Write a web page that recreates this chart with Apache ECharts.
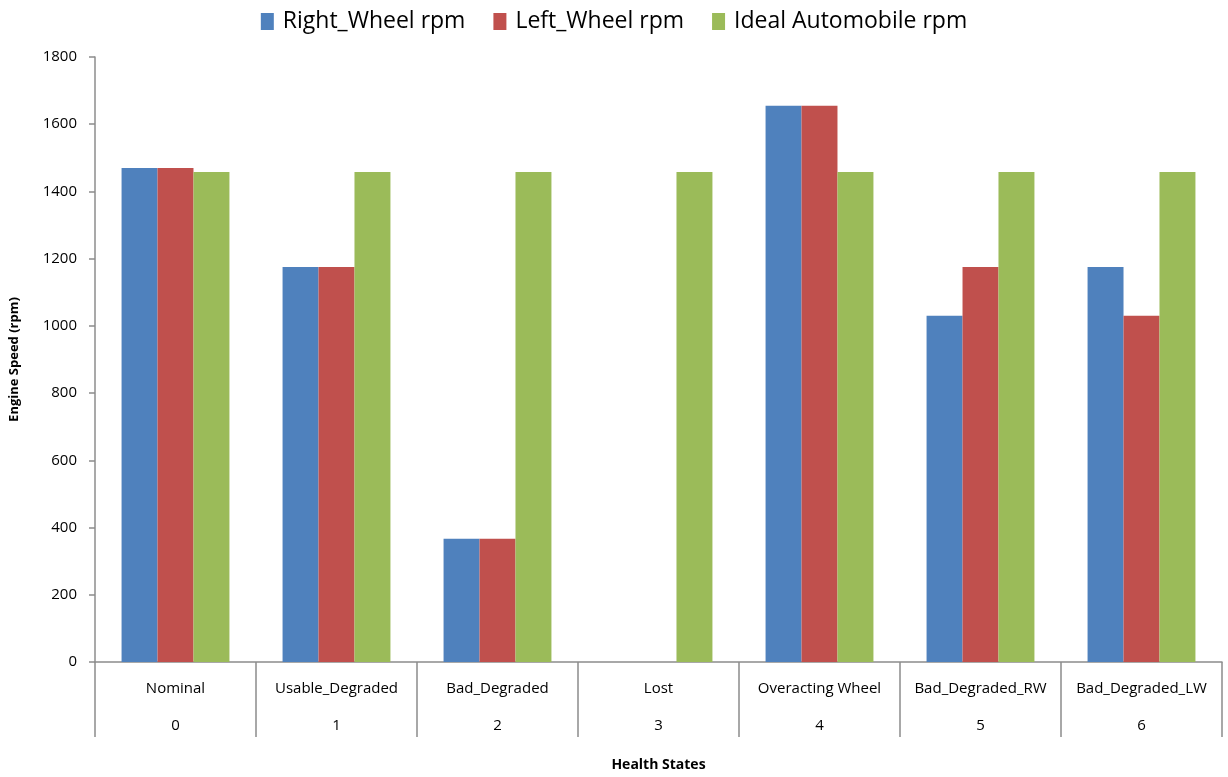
<!DOCTYPE html>
<html>
<head>
<meta charset="utf-8">
<script src="https://cdn.jsdelivr.net/npm/echarts@6/dist/echarts.min.js"></script>
<style>
html, body { margin: 0; padding: 0; background: #fff; }
#chart { width: 1228px; height: 777px; }
</style>
</head>
<body>
<div id="chart"></div>
<script>
var states = ['Nominal', 'Usable_Degraded', 'Bad_Degraded', 'Lost', 'Overacting Wheel', 'Bad_Degraded_RW', 'Bad_Degraded_LW'];
var stateIds = ['0', '1', '2', '3', '4', '5', '6'];
var rightWheel = [1470, 1175, 367, 0, 1655, 1030, 1175];
var leftWheel = [1470, 1175, 367, 0, 1655, 1175, 1030];
var idealAuto = [1458, 1458, 1458, 1458, 1458, 1458, 1458];
var seriesNames = ['Right_Wheel rpm', 'Left_Wheel rpm', 'Ideal Automobile rpm'];
var yTicks = { min: 0, max: 1800, interval: 200 };

var fontFam = 'Open Sans, sans-serif';
var chart = echarts.init(document.getElementById('chart'));

function bar(name, data, color) {
    return {
        name: name,
        type: 'bar',
        data: data,
        barGap: '0%',
        barCategoryGap: '33%',
        itemStyle: { color: color },
        xAxisIndex: 0
    };
}

var option = {
    animation: false,
    backgroundColor: '#fff',
    legend: {
        top: 5,
        left: 'center',
        itemWidth: 13,
        itemHeight: 17,
        itemGap: 28,
        icon: 'rect',
        textStyle: { fontFamily: fontFam, fontSize: 23, color: '#000', padding: [0, 0, 0, 4] },
        data: seriesNames
    },
    grid: { left: 95, right: 6, top: 57, bottom: 110 },
    xAxis: [{
        type: 'category',
        data: states,
        position: 'bottom',
        axisLine: { lineStyle: { color: '#8c8c8c', width: 1.5 } },
        axisTick: { show: true, length: 75, interval: 0, lineStyle: { color: '#8c8c8c', width: 1.5 } },
        axisLabel: { interval: 0, margin: 19, fontFamily: fontFam, fontSize: 15, color: '#000' },
        name: 'Health States',
        nameLocation: 'middle',
        nameGap: 96,
        nameTextStyle: { fontFamily: fontFam, fontSize: 14, fontWeight: 'bold', color: '#000' }
    }, {
        type: 'category',
        data: stateIds,
        position: 'bottom',
        axisLine: { show: false },
        axisTick: { show: false },
        axisLabel: { interval: 0, margin: 56, fontFamily: fontFam, fontSize: 15, color: '#000' }
    }],
    yAxis: {
        type: 'value',
        min: yTicks.min,
        max: yTicks.max,
        interval: yTicks.interval,
        axisLine: { show: true, lineStyle: { color: '#8c8c8c', width: 1.5 } },
        axisTick: { show: true, length: 6, lineStyle: { color: '#8c8c8c', width: 1.5 } },
        splitLine: { show: false },
        axisLabel: {
            margin: 18, fontFamily: fontFam, fontSize: 15, color: '#000',
            formatter: function (v) { return String(v); }
        },
        name: 'Engine Speed (rpm)',
        nameLocation: 'middle',
        nameRotate: 90,
        nameGap: 74,
        nameTextStyle: { fontFamily: fontFam, fontSize: 13, fontWeight: 'bold', color: '#000' }
    },
    series: [
        bar(seriesNames[0], rightWheel, '#4F81BD'),
        bar(seriesNames[1], leftWheel, '#C0504D'),
        bar(seriesNames[2], idealAuto, '#9BBB59')
    ]
};

chart.setOption(option);
</script>
</body>
</html>
